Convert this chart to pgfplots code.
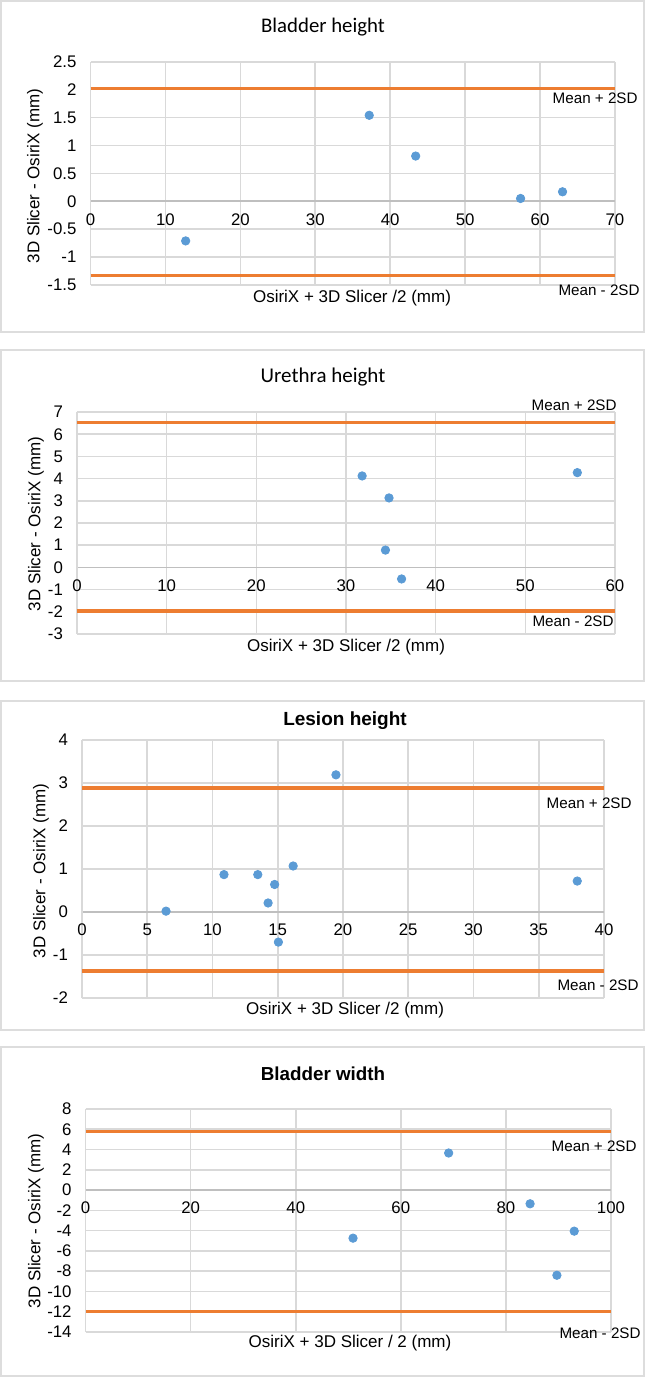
\documentclass[border=0pt]{standalone}
\usepackage{fontspec}
\setmainfont{Liberation Sans}
\newfontfamily\calib{Carlito}
\usepackage{pgfplots}
\pgfplotsset{compat=1.18}
\definecolor{gridc}{HTML}{D9D9D9}
\definecolor{zeroc}{HTML}{BFBFBF}
\definecolor{orangeC}{HTML}{ED7D31}
\definecolor{blueC}{HTML}{5B9BD5}
\definecolor{framec}{HTML}{DDDDDD}
\pgfplotsset{
  ba/.style={scale only axis, anchor=south west, enlargelimits=false,
    axis x line*=middle, axis y line*=left,
    hide obscured x ticks=false, hide obscured y ticks=false,
    x axis line style={draw=zeroc, line width=0.8pt},
    y axis line style={draw=gridc, line width=0.8pt},
    grid=major, major grid style={draw=gridc, line width=0.8pt},
    major tick length=0pt, tick style={draw=none},
    /pgf/number format/assume math mode=true,
    ticklabel style={font=\fontsize{8.4}{9}\selectfont, text=black},
    xticklabel style={yshift=-2.5pt},
    yticklabel style={xshift=-3.5pt},
    clip=false},
  ml/.style={orangeC, line width=1.8pt},
  pts/.style={only marks, mark=*, mark size=2.1pt, mark options={draw=blueC, fill=blueC}}
}
\newcommand{\lab}{\fontsize{8.5}{10}\selectfont}
\newcommand{\mlab}{\fontsize{7.6}{9}\selectfont}
\begin{document}
\begin{tikzpicture}
\useasboundingbox (0,0) rectangle (322.5pt,-688.5pt);
% panel frames
\draw[framec, line width=1pt] (0.5pt,-0.5pt) rectangle (322pt,-166pt);
\draw[framec, line width=1pt] (0.5pt,-175pt) rectangle (322pt,-340.5pt);
\draw[framec, line width=1pt] (0.5pt,-350.5pt) rectangle (322pt,-515pt);
\draw[framec, line width=1pt] (0.5pt,-523.5pt) rectangle (322pt,-688pt);

% ---------- Panel 1 ----------
\begin{axis}[ba, at={(45.25pt,-142.5pt)}, width=262.25pt, height=111.65pt,
  xmin=0, xmax=70, ymin=-1.5, ymax=2.5,
  xtick={0,10,...,70}, ytick={-1.5,-1,-0.5,0,0.5,1,1.5,2,2.5}]
\addplot[ml] coordinates {(0,2.02) (70,2.02)};
\addplot[ml] coordinates {(0,-1.33) (70,-1.33)};
\addplot[pts] coordinates {(12.7,-0.71) (37.2,1.54) (43.4,0.81) (57.4,0.05) (63.0,0.17)};
\end{axis}
\node at (161.5pt,-13.5pt) {\calib\fontsize{10.4}{12}\selectfont Bladder height};
\node at (176pt,-149pt) {\lab OsiriX + 3D Slicer /2 (mm)};
\node[rotate=90] at (17.5pt,-88pt) {\lab 3D Slicer - OsiriX (mm)};
\node[anchor=east, inner sep=0pt] at (319pt,-49pt) {\mlab Mean + 2SD};
\node[anchor=east, inner sep=0pt] at (320pt,-145pt) {\mlab Mean - 2SD};

% ---------- Panel 2 ----------
\begin{axis}[ba, at={(38.5pt,-317pt)}, width=269pt, height=111pt,
  xmin=0, xmax=60, ymin=-3, ymax=7,
  xtick={0,10,...,60}, ytick={-3,-2,...,7}]
\addplot[ml] coordinates {(0,6.52) (60,6.52)};
\addplot[ml] coordinates {(0,-1.95) (60,-1.95)};
\addplot[pts] coordinates {(31.8,4.12) (34.8,3.13) (34.4,0.78) (36.2,-0.52) (55.8,4.27)};
\end{axis}
\node at (161.5pt,-188.5pt) {\calib\fontsize{10.5}{12}\selectfont Urethra height};
\node at (173pt,-323.5pt) {\lab OsiriX + 3D Slicer /2 (mm)};
\node[rotate=90] at (18pt,-262pt) {\lab 3D Slicer - OsiriX (mm)};
\node[anchor=east, inner sep=0pt] at (308.5pt,-202.5pt) {\mlab Mean + 2SD};
\node[anchor=east, inner sep=0pt] at (307pt,-310.5pt) {\mlab Mean - 2SD};

% ---------- Panel 3 ----------
\begin{axis}[ba, at={(41pt,-499pt)}, width=261pt, height=129pt,
  xmin=0, xmax=40, ymin=-2, ymax=4,
  xtick={0,5,...,40}, ytick={-2,-1,...,4}]
\addplot[ml] coordinates {(0,2.88) (40,2.88)};
\addplot[ml] coordinates {(0,-1.37) (40,-1.37)};
\addplot[pts] coordinates {(6.44,0.02) (10.88,0.87) (13.47,0.87) (14.76,0.64) (14.26,0.21) (16.18,1.07) (15.05,-0.70) (19.46,3.19) (37.95,0.72)};
\end{axis}
\node at (172.5pt,-360.5pt) {\bfseries\fontsize{9.5}{11}\selectfont Lesion height};
\node at (172.5pt,-505pt) {\lab OsiriX + 3D Slicer /2 (mm)};
\node[rotate=90] at (20.5pt,-435.5pt) {\lab 3D Slicer - OsiriX (mm)};
\node[anchor=east, inner sep=0pt] at (316pt,-401.5pt) {\mlab Mean + 2SD};
\node[anchor=east, inner sep=0pt] at (319.5pt,-492.5pt) {\mlab Mean - 2SD};

% ---------- Panel 4 ----------
\begin{axis}[ba, at={(42.8pt,-666pt)}, width=262.7pt, height=111.5pt,
  xmin=0, xmax=100, ymin=-14, ymax=8,
  xtick={0,20,...,100}, ytick={-14,-12,...,8}]
\addplot[ml] coordinates {(0,5.80) (100,5.80)};
\addplot[ml] coordinates {(0,-11.96) (100,-11.96)};
\addplot[pts] coordinates {(50.9,-4.74) (69.1,3.66) (84.6,-1.35) (93.0,-4.05) (89.7,-8.40)};
\end{axis}
\node at (161.5pt,-537pt) {\bfseries\fontsize{9.4}{11}\selectfont Bladder width};
\node at (175pt,-671.5pt) {\lab OsiriX + 3D Slicer / 2 (mm)};
\node[rotate=90] at (18pt,-610.5pt) {\lab 3D Slicer - OsiriX (mm)};
\node[anchor=east, inner sep=0pt] at (318.5pt,-573pt) {\mlab Mean + 2SD};
\node[anchor=east, inner sep=0pt] at (320.5pt,-666.5pt) {\mlab Mean - 2SD};
\end{tikzpicture}
\end{document}
